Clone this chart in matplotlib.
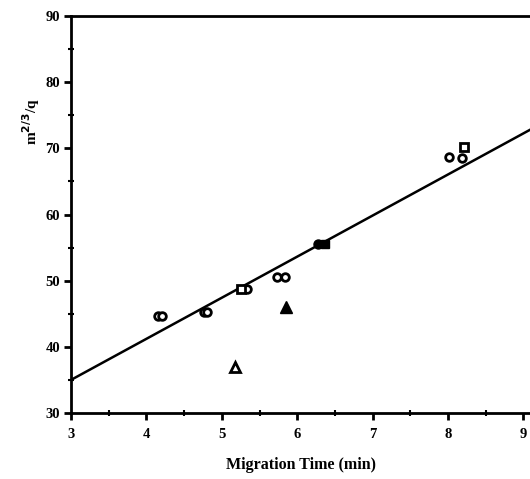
import matplotlib
matplotlib.use("Agg")
import matplotlib.pyplot as plt
from matplotlib.ticker import MultipleLocator

# open circles
circ_x = [4.16, 4.21, 4.76, 4.81, 5.33, 5.73, 5.84, 8.01, 8.18]
circ_y = [44.7, 44.7, 45.2, 45.2, 48.7, 50.6, 50.6, 68.7, 68.5]
# open squares
sq_x = [5.25, 8.21]
sq_y = [48.7, 70.2]
# filled circle / filled square
fcirc_x = [6.27]
fcirc_y = [55.6]
fsq_x = [6.37]
fsq_y = [55.6]
# triangles
ftri_x = [5.85]
ftri_y = [46.0]
otri_x = [5.17]
otri_y = [37.0]
# fitted line
line_x = [3, 9.2]
line_y = [35.0, 73.5]

plt.rcParams['font.family'] = ['Liberation Serif', 'DejaVu Serif']
plt.rcParams['font.weight'] = 'bold'

fig = plt.figure(figsize=(5.3, 4.79), dpi=100)
ax = fig.add_axes([71/530, 66/479, 459/530, 397/479])

ax.plot(line_x, line_y, color='black', lw=1.8, zorder=1)
ax.plot(circ_x, circ_y, 'o', ms=5.5, mfc='white', mec='black', mew=2, zorder=3)
ax.plot(sq_x, sq_y, 's', ms=5.8, mfc='white', mec='black', mew=2, zorder=3)
ax.plot(fcirc_x, fcirc_y, 'o', ms=6.5, color='black', zorder=3)
ax.plot(fsq_x, fsq_y, 's', ms=6, color='black', zorder=3)
ax.plot(ftri_x, ftri_y, '^', ms=9, color='black', zorder=3)
ax.plot(otri_x, otri_y, '^', ms=6.5, mfc='white', mec='black', mew=2, zorder=3)

ax.set_xlim(3, 3 + 459/75.4)
ax.set_ylim(30, 90)
ax.set_xticks([3, 4, 5, 6, 7, 8, 9])
ax.set_yticks([30, 40, 50, 60, 70, 80, 90])
ax.xaxis.set_minor_locator(MultipleLocator(0.5))
ax.yaxis.set_minor_locator(MultipleLocator(5))
ax.tick_params(which='major', direction='out', length=5, width=2, labelsize=10.5, pad=3)
ax.tick_params(which='minor', direction='inout', length=4, width=1.5)
ax.tick_params(axis='x', pad=6)

for s in ['left', 'top', 'bottom']:
    ax.spines[s].set_linewidth(2)
ax.spines['right'].set_visible(False)

for lab in ax.get_xticklabels() + ax.get_yticklabels():
    lab.set_fontweight('bold')

ax.set_xlabel('Migration Time (min)', fontsize=11.5, fontweight='bold', labelpad=11)
fig.text(0.058, 0.745, r'm$^{\mathbf{2/3}}$/q', rotation=90, fontsize=11,
         fontweight='bold', ha='center', va='center')

fig.savefig('out.png', dpi=100)
